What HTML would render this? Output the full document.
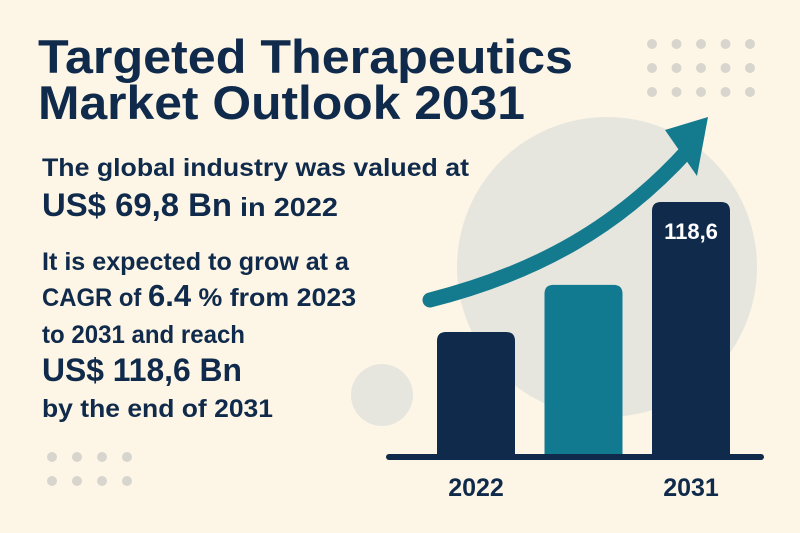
<!DOCTYPE html>
<html><head><meta charset="utf-8"><style>
html,body{margin:0;padding:0;background:#fdf5e6;}
svg{display:block;font-family:"Liberation Sans",sans-serif;}
</style></head><body>
<svg width="800" height="533" viewBox="0 0 800 533">
<rect width="800" height="533" fill="#fdf5e6"/>
<circle cx="607" cy="267" r="150" fill="#e6e6df"/>
<circle cx="382" cy="395" r="31" fill="#e6e6df"/>
<g id="dots" fill="#d8d5ce"></g>
<g fill="#0f2a4a" font-weight="bold">
<text x="38" y="73" font-size="47" textLength="535" lengthAdjust="spacingAndGlyphs">Targeted Therapeutics</text>
<text x="38" y="119" font-size="47" textLength="487" lengthAdjust="spacingAndGlyphs">Market Outlook 2031</text>
<text x="42" y="176" font-size="25" textLength="427" lengthAdjust="spacingAndGlyphs">The global industry was valued at</text>
<text x="42" y="216"><tspan font-size="32" textLength="190" lengthAdjust="spacingAndGlyphs">US$ 69,8 Bn</tspan><tspan font-size="26" textLength="106" lengthAdjust="spacingAndGlyphs"> in 2022</tspan></text>
<text x="42" y="270" font-size="25" textLength="307" lengthAdjust="spacingAndGlyphs">It is expected to grow at a</text>
<text x="42" y="306" font-size="25"><tspan textLength="106" lengthAdjust="spacingAndGlyphs">CAGR of </tspan><tspan font-size="31">6.4</tspan><tspan textLength="165" lengthAdjust="spacingAndGlyphs"> % from 2023</tspan></text>
<text x="42" y="343" font-size="25" textLength="203" lengthAdjust="spacingAndGlyphs">to 2031 and reach</text>
<text x="42" y="381" font-size="32" textLength="200" lengthAdjust="spacingAndGlyphs">US$ 118,6 Bn</text>
<text x="42" y="417" font-size="25" textLength="231" lengthAdjust="spacingAndGlyphs">by the end of 2031</text>
</g>
<g id="chart"></g>
<path d="M430,300 C540,272 620,225 688,150" fill="none" stroke="#147a8e" stroke-width="15" stroke-linecap="round"/>
<polygon points="708,117 697,176 665,130" fill="#147a8e"/>
</svg>
<script>
const categories = ["2022", "", "2031"];
const values = [69.8, 87.5, 118.6];
const valueLabels = ["", "", "118,6"];
const colors = ["#0f2a4a", "#127a90", "#0f2a4a"];

const NS = "http://www.w3.org/2000/svg";
const baseY = 457, v0 = 22.9, k = 2.664;
function yScale(v){ return baseY - (v - v0) * k; }
function xScale(i){ return 437 + i * 107.5; }
const barW = 78;
const chart = document.getElementById('chart');
values.forEach((v, i) => {
  const x = xScale(i), y = yScale(v);
  const r = document.createElementNS(NS, 'path');
  const rr = 9;
  r.setAttribute('d', `M${x},${baseY} L${x},${y+rr} Q${x},${y} ${x+rr},${y} L${x+barW-rr},${y} Q${x+barW},${y} ${x+barW},${y+rr} L${x+barW},${baseY} Z`);
  r.setAttribute('fill', colors[i]);
  
  
  chart.appendChild(r);
  if (valueLabels[i]) {
    const t = document.createElementNS(NS, 'text');
    t.setAttribute('x', x + barW / 2);
    t.setAttribute('y', y + 37);
    t.setAttribute('text-anchor', 'middle');
    t.setAttribute('fill', '#ffffff');
    t.setAttribute('font-size', '22');
    t.setAttribute('font-weight', 'bold');
    t.textContent = valueLabels[i];
    
    
    chart.appendChild(t);
  }
  if (categories[i]) {
    const t = document.createElementNS(NS, 'text');
    t.setAttribute('x', x + barW / 2);
    t.setAttribute('y', 496);
    t.setAttribute('text-anchor', 'middle');
    t.setAttribute('fill', '#0f2a4a');
    t.setAttribute('font-size', '25');
    t.setAttribute('font-weight', 'bold');
    t.textContent = categories[i];
    
    
    chart.appendChild(t);
  }
});
const axis = document.createElementNS(NS, 'line');
axis.setAttribute('x1', 389); axis.setAttribute('x2', 761);
axis.setAttribute('y1', baseY); axis.setAttribute('y2', baseY);
axis.setAttribute('stroke', '#0f2a4a'); axis.setAttribute('stroke-width', '6');
axis.setAttribute('stroke-linecap', 'round');


chart.appendChild(axis);

const dots = document.getElementById('dots');
function dot(cx, cy){
  const c = document.createElementNS(NS, 'circle');
  c.setAttribute('cx', cx); c.setAttribute('cy', cy); c.setAttribute('r', 5);
  
  
  dots.appendChild(c);
}
for (let r = 0; r < 3; r++) for (let c = 0; c < 5; c++) dot(652 + c * 24.5, 44 + r * 24);
for (let r = 0; r < 2; r++) for (let c = 0; c < 4; c++) dot(52 + c * 25, 457 + r * 24);
</script>
</body></html>
